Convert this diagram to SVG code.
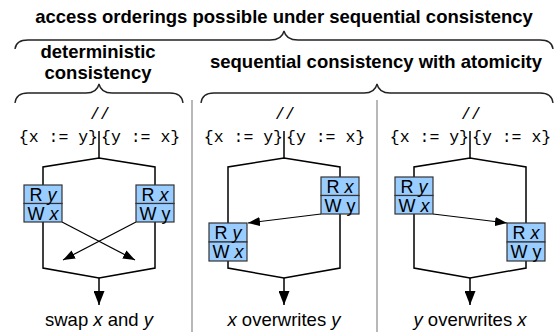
<svg xmlns="http://www.w3.org/2000/svg" width="554" height="332" viewBox="0 0 554 332">
<style>
.t{font-family:"Liberation Sans",Arial,sans-serif;fill:#000}
.h{font-size:18.5px;font-weight:bold}
.l{font-size:18.5px}
.m{font-family:"Liberation Mono","Courier New",monospace;font-size:16.5px;fill:#000}
.bx{fill:#99ccff;stroke:#333;stroke-width:1.2}
.bt{font-family:"Liberation Sans",Arial,sans-serif;font-size:18px;fill:#000;text-anchor:middle}
.f{fill:none;stroke:#000;stroke-width:1.5}
.a{fill:none;stroke:#000;stroke-width:1.2}
.br{fill:none;stroke:#222;stroke-width:1.4}
.sep{stroke:#a0a0a0;stroke-width:1.5}
.i{font-style:italic}
</style>
<defs>
<marker id="ah" markerWidth="12" markerHeight="9" refX="12" refY="4.5" orient="auto" markerUnits="userSpaceOnUse">
<path d="M0,0 L12,4.5 L0,9 z" fill="#000"/>
</marker>
<marker id="dh" markerWidth="14" markerHeight="11" refX="14" refY="5.5" orient="auto" markerUnits="userSpaceOnUse">
<path d="M0,0 L14,5.5 L0,11 z" fill="#000"/>
</marker>
</defs>

<g id="headings">
<text class="t h" x="284" y="23" text-anchor="middle">access orderings possible under sequential consistency</text>
<path class="br" d="M15,49 Q16,40 28,40 L270,40 Q282,40 284,31 Q286,40 298,40 L540,40 Q552,40 553,49"/>
<text class="t h" x="98" y="58" text-anchor="middle">deterministic</text>
<text class="t h" x="98" y="79" text-anchor="middle">consistency</text>
<text class="t h" x="376" y="68" text-anchor="middle">sequential consistency with atomicity</text>
<path class="br" d="M15,103 Q16,93 28,93 L86,93 Q97,93 99,84 Q101,93 112,93 L170,93 Q182,93 183,103"/>
<path class="br" d="M201,103 Q202,93 214,93 L364,93 Q375,93 377,84 Q379,93 390,93 L540,93 Q552,93 553,103"/>
<line class="sep" x1="192" y1="100" x2="192" y2="332"/>
<line class="sep" x1="377" y1="100" x2="377" y2="332"/>
</g>

<g id="panel1">
<text class="m" x="100" y="119" text-anchor="middle">//</text>
<text class="m" x="98" y="142" text-anchor="end">{x := y}</text>
<text class="m" x="101" y="142">{y := x}</text>
<text class="t l" x="99" y="326" text-anchor="middle">swap <tspan class="i">x</tspan> and <tspan class="i">y</tspan></text>
</g>
<g id="panel2">
<text class="m" x="285" y="119" text-anchor="middle">//</text>
<text class="m" x="283" y="142" text-anchor="end">{x := y}</text>
<text class="m" x="286" y="142">{y := x}</text>
<text class="t l" x="284" y="326" text-anchor="middle"><tspan class="i">x</tspan> overwrites <tspan class="i">y</tspan></text>
</g>
<g id="panel3">
<text class="m" x="471" y="119" text-anchor="middle">//</text>
<text class="m" x="469" y="142" text-anchor="end">{x := y}</text>
<text class="m" x="472" y="142">{y := x}</text>
<text class="t l" x="470" y="326" text-anchor="middle"><tspan class="i">y</tspan> overwrites <tspan class="i">x</tspan></text>
</g>

<g id="connectors">
<line class="f" x1="99" y1="131" x2="99" y2="158"/>
<polyline class="f" points="43,185 43,167 99,158 155,167 155,185"/>
<polyline class="f" points="43,222 43,268 99,278 155,268 155,222"/>
<line class="f" x1="99" y1="278" x2="99" y2="305" marker-end="url(#dh)"/>
<line class="a" x1="62" y1="222" x2="135" y2="260" marker-end="url(#ah)"/>
<line class="a" x1="136" y1="222" x2="63" y2="260" marker-end="url(#ah)"/>
<line class="f" x1="284" y1="131" x2="284" y2="158"/>
<polyline class="f" points="228,223 228,167 284,158 340,167 340,177"/>
<polyline class="f" points="228,261 228,268 284,278 340,268 340,214"/>
<line class="f" x1="284" y1="278" x2="284" y2="305" marker-end="url(#dh)"/>
<line class="a" x1="321" y1="214" x2="248" y2="223" marker-end="url(#ah)"/>
<line class="f" x1="470" y1="131" x2="470" y2="158"/>
<polyline class="f" points="414,177 414,167 470,158 526,167 526,223"/>
<polyline class="f" points="414,214 414,268 470,278 526,268 526,261"/>
<line class="f" x1="470" y1="278" x2="470" y2="305" marker-end="url(#dh)"/>
<line class="a" x1="433" y1="214" x2="507" y2="223" marker-end="url(#ah)"/>
</g>

<g id="box-p1-left">
<rect class="bx" x="24" y="185" width="38" height="18.5"/>
<rect class="bx" x="24" y="203.5" width="38" height="18.5"/>
<text class="bt" x="43" y="201">R <tspan class="i">y</tspan></text>
<text class="bt" x="43" y="219.5">W <tspan class="i">x</tspan></text>
</g>
<g id="box-p1-right">
<rect class="bx" x="136" y="185" width="38" height="18.5"/>
<rect class="bx" x="136" y="203.5" width="38" height="18.5"/>
<text class="bt" x="155" y="201">R <tspan class="i">x</tspan></text>
<text class="bt" x="155" y="219.5">W y</text>
</g>
<g id="box-p2-right">
<rect class="bx" x="321" y="177" width="38" height="18.5"/>
<rect class="bx" x="321" y="195.5" width="38" height="18.5"/>
<text class="bt" x="340" y="193">R <tspan class="i">x</tspan></text>
<text class="bt" x="340" y="211.5">W y</text>
</g>
<g id="box-p2-left">
<rect class="bx" x="209" y="223" width="38" height="19"/>
<rect class="bx" x="209" y="242" width="38" height="19"/>
<text class="bt" x="228" y="239">R <tspan class="i">y</tspan></text>
<text class="bt" x="228" y="258">W <tspan class="i">x</tspan></text>
</g>
<g id="box-p3-left">
<rect class="bx" x="395" y="177" width="38" height="18.5"/>
<rect class="bx" x="395" y="195.5" width="38" height="18.5"/>
<text class="bt" x="414" y="193">R <tspan class="i">y</tspan></text>
<text class="bt" x="414" y="211.5">W <tspan class="i">x</tspan></text>
</g>
<g id="box-p3-right">
<rect class="bx" x="507" y="223" width="38" height="19"/>
<rect class="bx" x="507" y="242" width="38" height="19"/>
<text class="bt" x="526" y="239">R <tspan class="i">x</tspan></text>
<text class="bt" x="526" y="258">W y</text>
</g>
</svg>
